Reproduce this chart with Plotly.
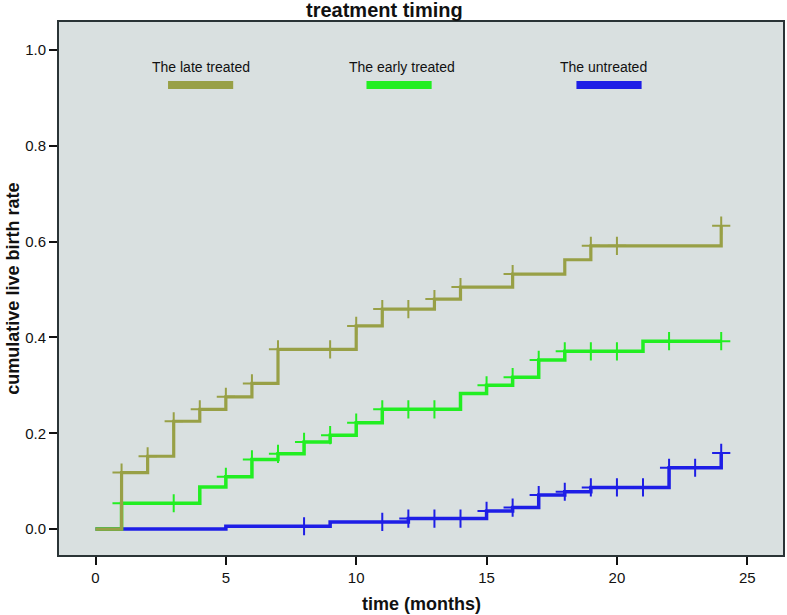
import plotly.graph_objects as go

# ---- data ----
late_times = [0, 1, 2, 3, 4, 5, 6, 7, 10, 11, 13, 14, 16, 18, 19, 24]
late_values = [0, 0.118, 0.152, 0.225, 0.25, 0.276, 0.304, 0.375, 0.424, 0.459, 0.48, 0.505, 0.532, 0.562, 0.591, 0.633]
late_censor = [1, 2, 3, 4, 5, 6, 7, 9, 10, 11, 12, 13, 14, 16, 19, 20, 24]

early_times = [0, 1, 4, 5, 6, 7, 8, 9, 10, 11, 14, 15, 16, 17, 18, 21, 24]
early_values = [0, 0.054, 0.088, 0.109, 0.1455, 0.157, 0.182, 0.196, 0.222, 0.25, 0.283, 0.3, 0.317, 0.353, 0.371, 0.392, 0.392]
early_censor = [1, 3, 5, 6, 7, 8, 9, 10, 11, 12, 13, 15, 16, 17, 18, 19, 20, 22, 24]

untr_times = [0, 5, 9, 12, 15, 16, 17, 18, 19, 22, 24]
untr_values = [0, 0.006, 0.015, 0.022, 0.038, 0.045, 0.071, 0.078, 0.087, 0.128, 0.159]
untr_censor = [8, 11, 12, 13, 14, 15, 16, 17, 18, 19, 20, 21, 22, 23, 24]

names = ["The late treated", "The early treated", "The untreated"]
colors = ["#98A046", "#22EE22", "#1E1EE6"]

x_ticks = [0, 5, 10, 15, 20, 25]
y_ticks = [0.0, 0.2, 0.4, 0.6, 0.8, 1.0]


def step_value(times, values, t):
    v = values[0]
    for tt, vv in zip(times, values):
        if tt <= t:
            v = vv
    return v


series = [
    (untr_times, untr_values, untr_censor, 2, 3.5),
    (early_times, early_values, early_censor, 1, 3.5),
    (late_times, late_values, late_censor, 0, 3.2),
]

FONT = "Liberation Sans Narrow, Liberation Sans, Arial"

fig = go.Figure()
for times, values, cens, idx, lw in series:
    fig.add_trace(go.Scatter(
        x=times, y=values, mode="lines", line=dict(color=colors[idx], width=lw, shape="hv"),
        name=names[idx], showlegend=False, hoverinfo="skip"))
    fig.add_trace(go.Scatter(
        x=cens, y=[step_value(times, values, t) for t in cens], mode="markers",
        marker=dict(symbol="cross-thin", size=13, line=dict(color=colors[idx], width=2)),
        showlegend=False, hoverinfo="skip"))

# custom legend: text above a thick bar
text_x = [0.1956, 0.4738, 0.752]
bar_x = [0.1956, 0.4697, 0.7597]
for i in range(3):
    fig.add_annotation(xref="paper", yref="paper", x=text_x[i], y=0.896, text=names[i],
                       showarrow=False, font=dict(family=FONT, size=14, color="#111"),
                       xanchor="center", yanchor="bottom")
    fig.add_shape(type="line", xref="paper", yref="paper",
                  x0=bar_x[i] - 0.045, x1=bar_x[i] + 0.045, y0=0.882, y1=0.882,
                  line=dict(color=colors[i], width=8))

# title & axis titles
fig.add_annotation(xref="paper", yref="paper", x=0.4490, y=1.0, yshift=-1, text="<b>treatment timing</b>",
                   showarrow=False, font=dict(family=FONT, size=20, color="#111"),
                   xanchor="center", yanchor="bottom")
fig.add_annotation(xref="paper", yref="paper", x=0.5, y=-0.070, text="<b>time (months)</b>",
                   showarrow=False, font=dict(family=FONT, size=18, color="#111"),
                   xanchor="center", yanchor="top")
fig.add_annotation(xref="paper", yref="paper", x=-0.0647, y=0.5, text="<b>cumulative live birth rate</b>",
                   showarrow=False, textangle=-90, font=dict(family=FONT, size=18, color="#111"),
                   xanchor="center", yanchor="middle")

fig.update_layout(
    width=787, height=615,
    margin=dict(l=59, r=2, t=22, b=60),
    paper_bgcolor="white", plot_bgcolor="#D9E0E0",
    font=dict(family=FONT, size=14, color="#111"),
    showlegend=False,
)
fig.update_xaxes(range=[-1.4, 26.37], tickvals=x_ticks, ticktext=[str(v) for v in x_ticks],
                 showgrid=False, zeroline=False, ticks="outside", ticklen=8, tickwidth=2,
                 tickcolor="#111", showline=True, linecolor="#2a3436", linewidth=2, mirror=True,
                 tickfont=dict(family=FONT, size=15))
fig.update_yaxes(range=[-0.054, 1.058], tickvals=y_ticks, ticktext=[f"{v:.1f}" for v in y_ticks],
                 showgrid=False, zeroline=False, ticks="outside", ticklen=8, tickwidth=2,
                 tickcolor="#111", showline=True, linecolor="#2a3436", linewidth=2, mirror=True,
                 tickfont=dict(family=FONT, size=15))

fig.write_html("out.html", config={"displayModeBar": False},
               post_script="document.body.style.margin='0';")
